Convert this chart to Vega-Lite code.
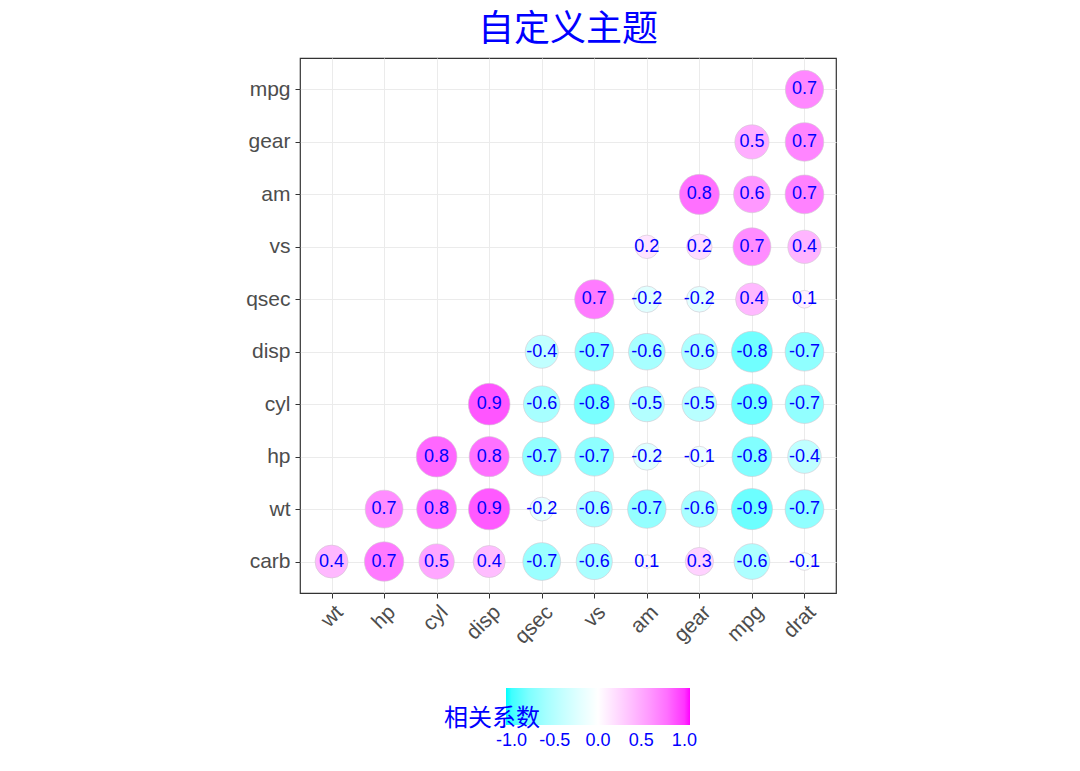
{
  "$schema": "https://vega.github.io/schema/vega-lite/v6.json",
  "width": 536,
  "height": 535,
  "autosize": {"type": "none"},
  "padding": {"left": 300, "top": 58, "right": 244, "bottom": 178},
  "background": "white",
  "title": {
    "text": "自定义主题",
    "font": "Noto Sans CJK SC",
    "fontSize": 36,
    "fontWeight": "normal",
    "color": "#0000FF",
    "anchor": "middle",
    "offset": 9
  },
  "config": {
    "locale": {
      "number": {"decimal": ".", "thousands": ",", "grouping": [3], "currency": ["$", ""], "minus": "-"}
    },
    "view": {"stroke": "#333333", "strokeWidth": 1.2},
    "axis": {
      "grid": true,
      "gridColor": "#EBEBEB",
      "gridWidth": 1,
      "domain": false,
      "tickColor": "#333333",
      "tickSize": 5,
      "labelFont": "Liberation Sans",
      "labelFontSize": 21,
      "labelColor": "#4D4D4D",
      "title": null
    }
  },
  "data": {
    "values": [
      {"x": "wt", "y": "carb", "r": 0.4276},
      {"x": "hp", "y": "carb", "r": 0.7498},
      {"x": "cyl", "y": "carb", "r": 0.5270},
      {"x": "disp", "y": "carb", "r": 0.3950},
      {"x": "qsec", "y": "carb", "r": -0.6562},
      {"x": "vs", "y": "carb", "r": -0.5696},
      {"x": "am", "y": "carb", "r": 0.0575},
      {"x": "gear", "y": "carb", "r": 0.2741},
      {"x": "mpg", "y": "carb", "r": -0.5509},
      {"x": "drat", "y": "carb", "r": -0.0908},
      {"x": "hp", "y": "wt", "r": 0.6587},
      {"x": "cyl", "y": "wt", "r": 0.7825},
      {"x": "disp", "y": "wt", "r": 0.8880},
      {"x": "qsec", "y": "wt", "r": -0.1747},
      {"x": "vs", "y": "wt", "r": -0.5549},
      {"x": "am", "y": "wt", "r": -0.6925},
      {"x": "gear", "y": "wt", "r": -0.5833},
      {"x": "mpg", "y": "wt", "r": -0.8677},
      {"x": "drat", "y": "wt", "r": -0.7124},
      {"x": "cyl", "y": "hp", "r": 0.8324},
      {"x": "disp", "y": "hp", "r": 0.7909},
      {"x": "qsec", "y": "hp", "r": -0.7082},
      {"x": "vs", "y": "hp", "r": -0.7231},
      {"x": "am", "y": "hp", "r": -0.2432},
      {"x": "gear", "y": "hp", "r": -0.1257},
      {"x": "mpg", "y": "hp", "r": -0.7762},
      {"x": "drat", "y": "hp", "r": -0.4488},
      {"x": "disp", "y": "cyl", "r": 0.9020},
      {"x": "qsec", "y": "cyl", "r": -0.5912},
      {"x": "vs", "y": "cyl", "r": -0.8108},
      {"x": "am", "y": "cyl", "r": -0.5226},
      {"x": "gear", "y": "cyl", "r": -0.4927},
      {"x": "mpg", "y": "cyl", "r": -0.8522},
      {"x": "drat", "y": "cyl", "r": -0.6999},
      {"x": "qsec", "y": "disp", "r": -0.4337},
      {"x": "vs", "y": "disp", "r": -0.7104},
      {"x": "am", "y": "disp", "r": -0.5912},
      {"x": "gear", "y": "disp", "r": -0.5556},
      {"x": "mpg", "y": "disp", "r": -0.8476},
      {"x": "drat", "y": "disp", "r": -0.7102},
      {"x": "vs", "y": "qsec", "r": 0.7445},
      {"x": "am", "y": "qsec", "r": -0.2299},
      {"x": "gear", "y": "qsec", "r": -0.2127},
      {"x": "mpg", "y": "qsec", "r": 0.4187},
      {"x": "drat", "y": "qsec", "r": 0.0912},
      {"x": "am", "y": "vs", "r": 0.1683},
      {"x": "gear", "y": "vs", "r": 0.2060},
      {"x": "mpg", "y": "vs", "r": 0.6640},
      {"x": "drat", "y": "vs", "r": 0.4403},
      {"x": "gear", "y": "am", "r": 0.7941},
      {"x": "mpg", "y": "am", "r": 0.5998},
      {"x": "drat", "y": "am", "r": 0.7127},
      {"x": "mpg", "y": "gear", "r": 0.4803},
      {"x": "drat", "y": "gear", "r": 0.6996},
      {"x": "drat", "y": "mpg", "r": 0.6812}
    ]
  },
  "transform": [{"calculate": "abs(datum.r)", "as": "abs_corr"}],
  "encoding": {
    "x": {
      "field": "x",
      "type": "nominal",
      "sort": ["wt", "hp", "cyl", "disp", "qsec", "vs", "am", "gear", "mpg", "drat"],
      "scale": {"type": "point", "padding": 0.6},
      "axis": {"labelAngle": -45, "labelAlign": "right", "labelBaseline": "top", "labelPadding": 3}
    },
    "y": {
      "field": "y",
      "type": "nominal",
      "sort": ["mpg", "gear", "am", "vs", "qsec", "disp", "cyl", "hp", "wt", "carb"],
      "scale": {"type": "point", "padding": 0.6},
      "axis": {"labelPadding": 5}
    }
  },
  "layer": [
    {
      "mark": {"type": "circle", "opacity": 1, "stroke": "#D0C8D0", "strokeWidth": 0.6},
      "encoding": {
        "size": {
          "field": "abs_corr",
          "type": "quantitative",
          "scale": {"type": "sqrt", "domain": [0.0575, 0.902], "range": [177, 1735], "zero": false},
          "legend": null
        },
        "color": {
          "field": "r",
          "type": "quantitative",
          "title": "相关系数",
          "scale": {"domain": [-1.065, 0, 1.065], "range": ["#00FFFF", "#FFFFFF", "#FF00FF"], "interpolate": "lab"},
          "legend": {
            "orient": "none",
            "direction": "horizontal",
            "legendX": 144,
            "legendY": 630,
            "gradientLength": 184,
            "gradientThickness": 37,
            "gradientStrokeWidth": 0,
            "values": [-1, -0.5, 0, 0.5, 1],
            "format": ".1f",
            "labelOverlap": false,
            "labelFont": "Liberation Sans",
            "labelFontSize": 18,
            "labelColor": "#0000FF",
            "labelOffset": 7,
            "titleOrient": "left",
            "titleFont": "Noto Sans CJK SC",
            "titleFontSize": 24,
            "titleFontWeight": "normal",
            "titleColor": "#0000FF",
            "titlePadding": -34,
            "titleAnchor": "middle",
            "titleBaseline": "top"
          }
        }
      }
    },
    {
      "mark": {"type": "text", "font": "Liberation Sans", "fontSize": 18, "color": "#0000FF"},
      "encoding": {
        "text": {"field": "r", "type": "quantitative", "format": ".1f"}
      }
    }
  ]
}
